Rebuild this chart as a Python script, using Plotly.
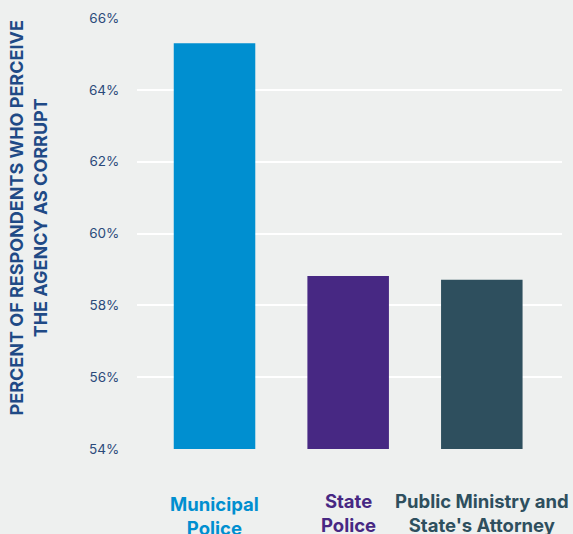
import plotly.graph_objects as go

# data
agencies = ["Municipal Police", "State Police", "Public Ministry and State's Attorney"]
label_lines = ["Municipal<br>Police", "State<br>Police", "Public Ministry and<br>State's Attorney"]
pct_corrupt = [65.3, 58.82, 58.71]
bar_colors = ["#008fd0", "#472883", "#2e4f5e"]
y_ticks = [54, 56, 58, 60, 62, 64, 66]
y_ticklabels = ["54%", "56%", "58%", "60%", "62%", "64%", "66%"]

fig = go.Figure()
fig.add_trace(go.Bar(
    x=agencies, y=pct_corrupt,
    marker=dict(color=bar_colors, line=dict(width=0)),
    width=0.61,
    hoverinfo="skip",
))

# coloured category labels
for i, (ag, lab) in enumerate(zip(agencies, label_lines)):
    fig.add_annotation(
        x=ag, y=0, xref="x", yref="paper",
        yanchor="top", yshift=-42 if i == 0 else -39,
        text="<b>" + lab + "</b>", showarrow=False,
        font=dict(family="Inter", size=18.5, color=bar_colors[i]),
        align="center",
    )

# axis title as annotation, two lines rotated
fig.add_annotation(
    x=-0.312, y=0.536, xref="paper", yref="paper",
    text="<b>PERCENT OF RESPONDENTS WHO PERCEIVE<br>THE AGENCY AS CORRUPT</b>",
    textangle=-90, showarrow=False,
    font=dict(family="Inter", size=18, color="#1f4a86"),
    align="center",
)

fig.update_layout(
    width=573, height=534,
    margin=dict(l=137, r=11, t=18, b=85),
    paper_bgcolor="#eef0ef", plot_bgcolor="#eef0ef",
    showlegend=False,
    xaxis=dict(
        range=[-0.58, 2.6], showticklabels=False, showgrid=False,
        zeroline=False, showline=False, fixedrange=True,
    ),
    yaxis=dict(
        range=[54, 66], tickvals=y_ticks, ticktext=y_ticklabels,
        showgrid=True, gridcolor="#ffffff", gridwidth=2,
        zeroline=False, showline=False,
        ticks="outside", ticklen=14, tickcolor="#eef0ef",
        tickfont=dict(family="Inter", size=13.5, color="#2b4a7a"),
        fixedrange=True,
    ),
)

fig.write_html("out.html", config={"displayModeBar": False},
               post_script="document.body.style.margin='0';")
